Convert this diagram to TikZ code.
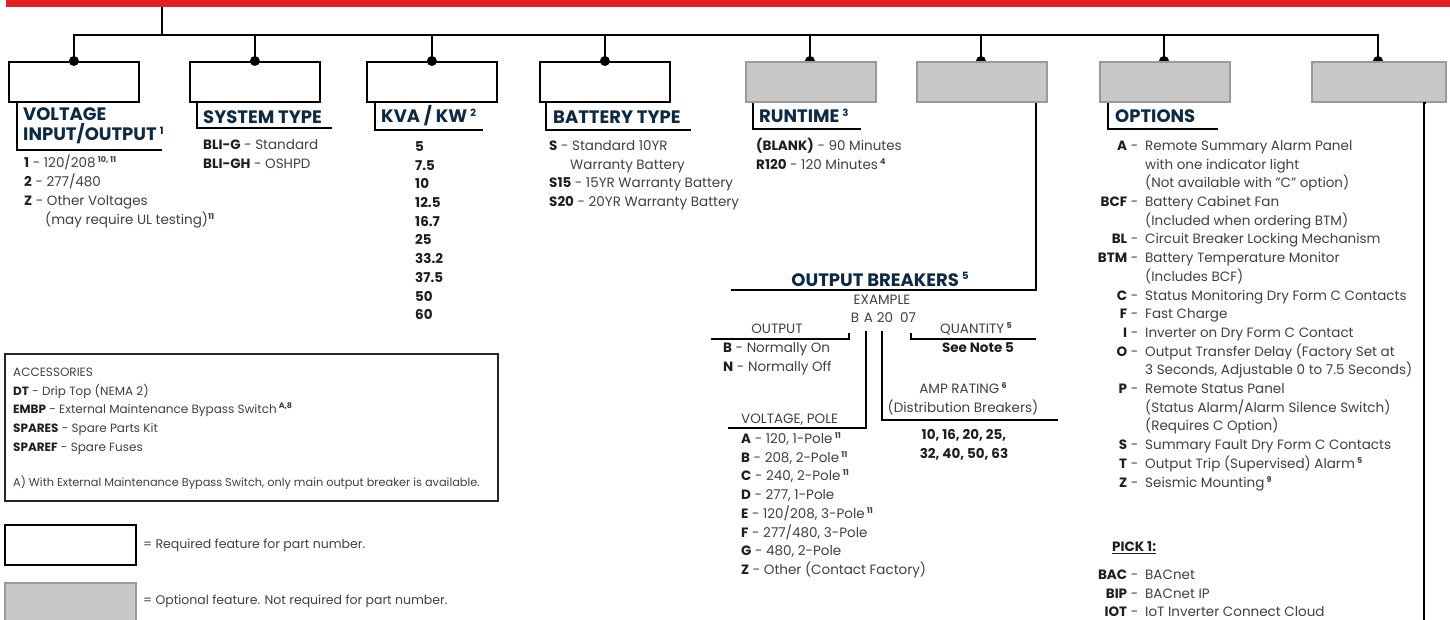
\documentclass[tikz,border=0pt]{standalone}
\usepackage{fontspec}
\setmainfont{Poppins}
\definecolor{barred}{HTML}{E31E26}
\definecolor{navy}{HTML}{0C2A44}
\definecolor{txt}{HTML}{404040}
\definecolor{lbl}{HTML}{1E1E1E}
\definecolor{optfill}{HTML}{C8C8C8}
\definecolor{optdraw}{HTML}{9A9A9A}
\newcommand{\supnote}[1]{\raisebox{5pt}{\fontsize{8}{8}\selectfont\bfseries #1}}
\newcommand{\hsup}[1]{\raisebox{6.5pt}{\fontsize{10}{10}\selectfont\bfseries #1}}
\newcommand{\kw}[1]{{\bfseries\color{lbl}#1}}
\newcommand{\lb}[1]{\makebox[41pt][r]{\kw{#1} -}}
\newcommand{\mlines}[1]{\begin{tabular}[t]{@{}l@{}}#1\end{tabular}}
\newcommand{\mlinesc}[1]{\begin{tabular}[t]{@{}c@{}}#1\end{tabular}}
\begin{document}
\begin{tikzpicture}[x=1pt,y=-1pt,
  reqbox/.style={draw=black, line width=1.8pt, fill=white, minimum width=130pt, minimum height=40pt, inner sep=0pt, anchor=north west},
  optbox/.style={draw=optdraw, line width=1.8pt, fill=optfill, minimum width=130pt, minimum height=40pt, inner sep=0pt, anchor=north west},
  conn/.style={line width=1.6pt, draw=black},
  thin/.style={line width=1.3pt, draw=black},
  dot/.style={circle, fill=black, inner sep=0pt, minimum size=10pt},
  head/.style={font=\fontsize{18}{20}\selectfont\bfseries, text=navy, anchor=base west, inner sep=0pt},
  body/.style={font=\fontsize{13.5}{18.7}\selectfont, text=txt, anchor=base west, inner sep=0pt},
  bodyc/.style={font=\fontsize{13.5}{18.7}\selectfont, text=txt, anchor=base, inner sep=0pt},
  small/.style={font=\fontsize{12}{18.7}\selectfont, text=txt, anchor=base west, inner sep=0pt},
]
\useasboundingbox (0,0) rectangle (1450,620);

% top bar and trunk
\node[fill=barred, minimum width=1444pt, minimum height=7pt, inner sep=0pt, anchor=north west] (bar) at (6,0) {};
\coordinate (hub) at (162,35);

% required boxes
\node[reqbox] (b1) at (8,61) {};
\node[reqbox] (b2) at (189,61) {};
\node[reqbox] (b3) at (366,61) {};
\node[reqbox] (b4) at (539,61) {};

% connectors
\draw[conn] (bar.south -| hub) -- (hub);
\draw[conn] (b1.north) |- (hub);
\draw[conn] (hub) -| (b2.north);
\draw[conn] (hub) -| (b3.north);
\draw[conn] (hub) -| (b4.north);
\coordinate (p5) at (810,61);
\coordinate (p6) at (981,61);
\coordinate (p7) at (1164,61);
\coordinate (p8) at (1378,61);
\draw[conn] (hub) -| (p5);
\draw[conn] (hub) -| (p6);
\draw[conn] (hub) -| (p7);
\draw[conn] (hub) -| (p8);
\foreach \n in {b1,b2,b3,b4} \node[dot] at (\n.north) {};
\foreach \n in {p5,p6,p7,p8} \node[dot] at (\n) {};

% optional boxes
\node[optbox] (b5) at (745,61) {};
\node[optbox] (b6) at (916,61) {};
\node[optbox] (b7) at (1099,61) {};
\node[optbox, minimum width=134pt] (b8) at (1311,61) {};

% heading brackets
\coordinate (e1) at (162,150);
\coordinate (e2) at (332,128);
\coordinate (e3) at (483,130);
\coordinate (e4) at (691,130);
\coordinate (e5) at (861,129);
\coordinate (e7) at (1218,129);
\draw[conn] ([xshift=9pt]b1.south west) |- (e1);
\draw[conn] ([xshift=8pt]b2.south west) |- (e2);
\draw[conn] ([xshift=9pt]b3.south west) |- (e3);
\draw[conn] ([xshift=7pt]b4.south west) |- (e4);
\draw[conn] ([xshift=8pt]b5.south west) |- (e5);
\draw[conn] ([xshift=9pt]b7.south west) |- (e7);
\coordinate (obend) at (731,290);
\draw[conn] ([xshift=-12pt]b6.south east) |- (obend);
\coordinate (b8end) at (1424,622);
\draw[conn] ([xshift=-21pt]b8.south east) -- (b8end |- b8.south) -- (b8end);

% headings
\node[head] (h1a) at (23,121) {VOLTAGE};
\node[head] (h1b) at (23,141) {INPUT/OUTPUT\,\hsup{1}};
\node[head] (h2) at (203,123.5) {SYSTEM TYPE};
\node[head] (h3) at (381,123) {KVA / KW\,\hsup{2}};
\node[head] (h4) at (553,124) {BATTERY TYPE};
\node[head] (h5) at (759,123) {RUNTIME\,\hsup{3}};
\node[head] (h7) at (1115,123) {OPTIONS};
\node[head, anchor=base] (h6) at (880,286) {OUTPUT BREAKERS\,\hsup{5}};

% lists
\node[body] (l1) at (24,168) {\mlines{\kw{1} - 120/208\,\supnote{10, 11}\\ \kw{2} - 277/480\\ \kw{Z} - Other Voltages\\ \hspace*{21pt}(may require UL testing)\supnote{11}}};
\node[body] (l2) at (203,149.5) {\mlines{\kw{BLI-G} - Standard\\ \kw{BLI-GH} - OSHPD}};
\node[body] (l3) at (415,151.5) {\mlines{\kw{5}\\ \kw{7.5}\\ \kw{10}\\ \kw{12.5}\\ \kw{16.7}\\ \kw{25}\\ \kw{33.2}\\ \kw{37.5}\\ \kw{50}\\ \kw{60}}};
\node[body] (l4) at (549,150.5) {\mlines{\kw{S} - Standard 10YR\\ \hspace*{21pt}Warranty Battery\\ \kw{S15} - 15YR Warranty Battery\\ \kw{S20} - 20YR Warranty Battery}};
\node[body] (l5) at (756,150.5) {\mlines{\kw{(BLANK)} - 90 Minutes\\ \kw{R120} - 120 Minutes\,\supnote{4}}};

\node[body] (l7) at (1097,150.5) {\begin{tabular}[t]{@{}l@{\hspace{7pt}}l@{}}
\lb{A} & Remote Summary Alarm Panel\\
 & with one indicator light\\
 & (Not available with "C" option)\\
\lb{BCF} & Battery Cabinet Fan\\
 & (Included when ordering BTM)\\
\lb{BL} & Circuit Breaker Locking Mechanism\\
\lb{BTM} & Battery Temperature Monitor\\
 & (Includes BCF)\\
\lb{C} & Status Monitoring Dry Form C Contacts\\
\lb{F} & Fast Charge\\
\lb{I} & Inverter on Dry Form C Contact\\
\lb{O} & Output Transfer Delay (Factory Set at\\
 & 3 Seconds, Adjustable 0 to 7.5 Seconds)\\
\lb{P} & Remote Status Panel\\
 & (Status Alarm/Alarm Silence Switch)\\
 & (Requires C Option)\\
\lb{S} & Summary Fault Dry Form C Contacts\\
\lb{T} & Output Trip (Supervised) Alarm\,\supnote{5}\\
\lb{Z} & Seismic Mounting\,\supnote{9}
\end{tabular}};
\node[body] (pick) at (1112,551.5) {\kw{\underline{PICK 1:}}};
\node[body] (l8) at (1097,579.5) {\begin{tabular}[t]{@{}l@{\hspace{7pt}}l@{}}
\lb{BAC} & BACnet\\
\lb{BIP} & BACnet IP\\
\lb{IOT} & IoT Inverter Connect Cloud
\end{tabular}};

% output breakers example
\node[bodyc] (ex) at (882,304.5) {EXAMPLE};
\node[bodyc] (eB) at (855,322.5) {B};
\node[bodyc] (eA) at (868.5,322.5) {A};
\node[bodyc] (e20) at (885,322.5) {20};
\node[bodyc] (e07) at (908,322.5) {07};
\coordinate (oe) at (711,339);
\coordinate (ve) at (728,428);
\coordinate (ae) at (1058,420);
\coordinate (qe) at (1036,339);
\draw[thin] (849,333) |- (oe);
\draw[thin] (866,331) |- (ve);
\draw[thin] (882,331) |- (ae);
\draw[thin] (911,333) |- (qe);
\node[bodyc] (tout) at (777,333.5) {OUTPUT};
\node[body] (lout) at (723,352.5) {\mlines{\kw{B} - Normally On\\ \kw{N} - Normally Off}};
\node[bodyc] (tq) at (976,333.5) {QUANTITY\,\supnote{5}};
\node[bodyc] (lq) at (978,352.5) {\kw{See Note 5}};
\node[body] (tv) at (741,423.5) {VOLTAGE, POLE};
\node[body] (lv) at (741,443.5) {\mlines{\kw{A} - 120, 1-Pole\,\supnote{11}\\ \kw{B} - 208, 2-Pole\,\supnote{11}\\ \kw{C} - 240, 2-Pole\,\supnote{11}\\ \kw{D} - 277, 1-Pole\\ \kw{E} - 120/208, 3-Pole\,\supnote{11}\\ \kw{F} - 277/480, 3-Pole\\ \kw{G} - 480, 2-Pole\\ \kw{Z} - Other (Contact Factory)}};
\node[bodyc] (ta) at (963,393.5) {\mlinesc{AMP RATING\,\supnote{6}\\ (Distribution Breakers)}};
\node[bodyc] (la) at (964,439.5) {\mlinesc{\kw{10, 16, 20, 25,}\\ \kw{32, 40, 50, 63}}};

% accessories box
\node[draw=black!85, line width=2.2pt, minimum width=493pt, minimum height=147pt, inner sep=0pt, anchor=north west] (acc) at (4,353) {};
\node[small] (acct) at (13,376.5) {\mlines{ACCESSORIES\\ \kw{DT} - Drip Top (NEMA 2)\\ \kw{EMBP} - External Maintenance Bypass Switch\,\supnote{A,8}\\ \kw{SPARES} - Spare Parts Kit\\ \kw{SPAREF} - Spare Fuses}};
\node[small, font=\fontsize{11.3}{14}\selectfont] (accn) at (13,486.5) {A) With External Maintenance Bypass Switch, only main output breaker is available.};

% legend
\node[reqbox, minimum width=131pt] (lg1) at (4,524) {};
\node[body, font=\fontsize{12.5}{18.7}\selectfont] (lg1t) at (143,548.5) {= Required feature for part number.};
\node[optbox, minimum width=131pt, minimum height=45pt] (lg2) at (4,582) {};
\node[body, font=\fontsize{12.5}{18.7}\selectfont] (lg2t) at (143,604.5) {= Optional feature. Not required for part number.};
\end{tikzpicture}
\end{document}
